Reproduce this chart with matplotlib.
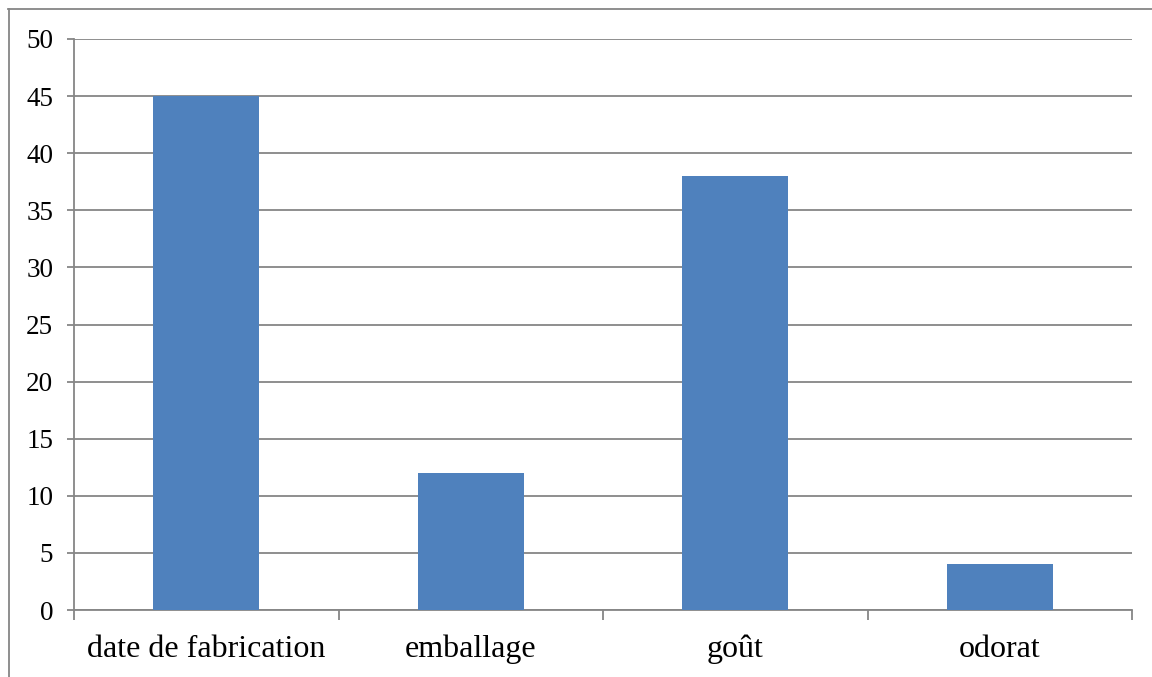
import matplotlib
matplotlib.use("Agg")
import matplotlib.pyplot as plt
from matplotlib.lines import Line2D
import numpy as np

categories = ["date de fabrication", "emballage", "goût", "odorat"]
values = [45, 12, 38, 4]
y_ticks = [0, 5, 10, 15, 20, 25, 30, 35, 40, 45, 50]

W, H = 1152, 677
fig = plt.figure(figsize=(W / 100, H / 100), dpi=100)
fig.patch.set_facecolor("white")
plt.rcParams["font.family"] = ["Liberation Serif", "DejaVu Serif"]

# plot area in pixels: left 74, right 1132, top 39, bottom 610
ax = fig.add_axes([74 / W, 1 - 610 / H, (1132 - 74) / W, (610 - 39) / H])

x = np.arange(len(categories))
ax.bar(x, values, width=0.4, color="#4F81BD", zorder=3)
ax.set_xlim(-0.5, len(categories) - 0.5)
ax.set_ylim(0, 50)
ax.set_yticks(y_ticks)
ax.set_yticklabels([str(t) for t in y_ticks], fontsize=19.5)
ax.yaxis.grid(True, color="#868686", linewidth=1.3, zorder=0)

# category labels centred, ticks at category boundaries
ax.set_xticks(x)
ax.set_xticklabels(categories, fontsize=23)
ax.tick_params(axis="x", length=0, pad=18)
ax.set_xticks(np.arange(-0.5, len(categories)), minor=True)
ax.tick_params(axis="x", which="minor", length=7, width=1.3, color="#868686")
ax.tick_params(axis="y", length=5, width=1.3, color="#868686", pad=10)

for side in ("top", "right"):
    ax.spines[side].set_visible(False)
for side in ("left", "bottom"):
    ax.spines[side].set_color("#868686")
    ax.spines[side].set_linewidth(1.3)

# outer chart border (left and top visible)
fig.add_artist(Line2D([8.5 / W, 8.5 / W], [0, 1 - 9 / H], color="#868686", linewidth=1.3))
fig.add_artist(Line2D([8 / W, 1], [1 - 9 / H, 1 - 9 / H], color="#868686", linewidth=1.3))

fig.savefig("out.png", dpi=100)
